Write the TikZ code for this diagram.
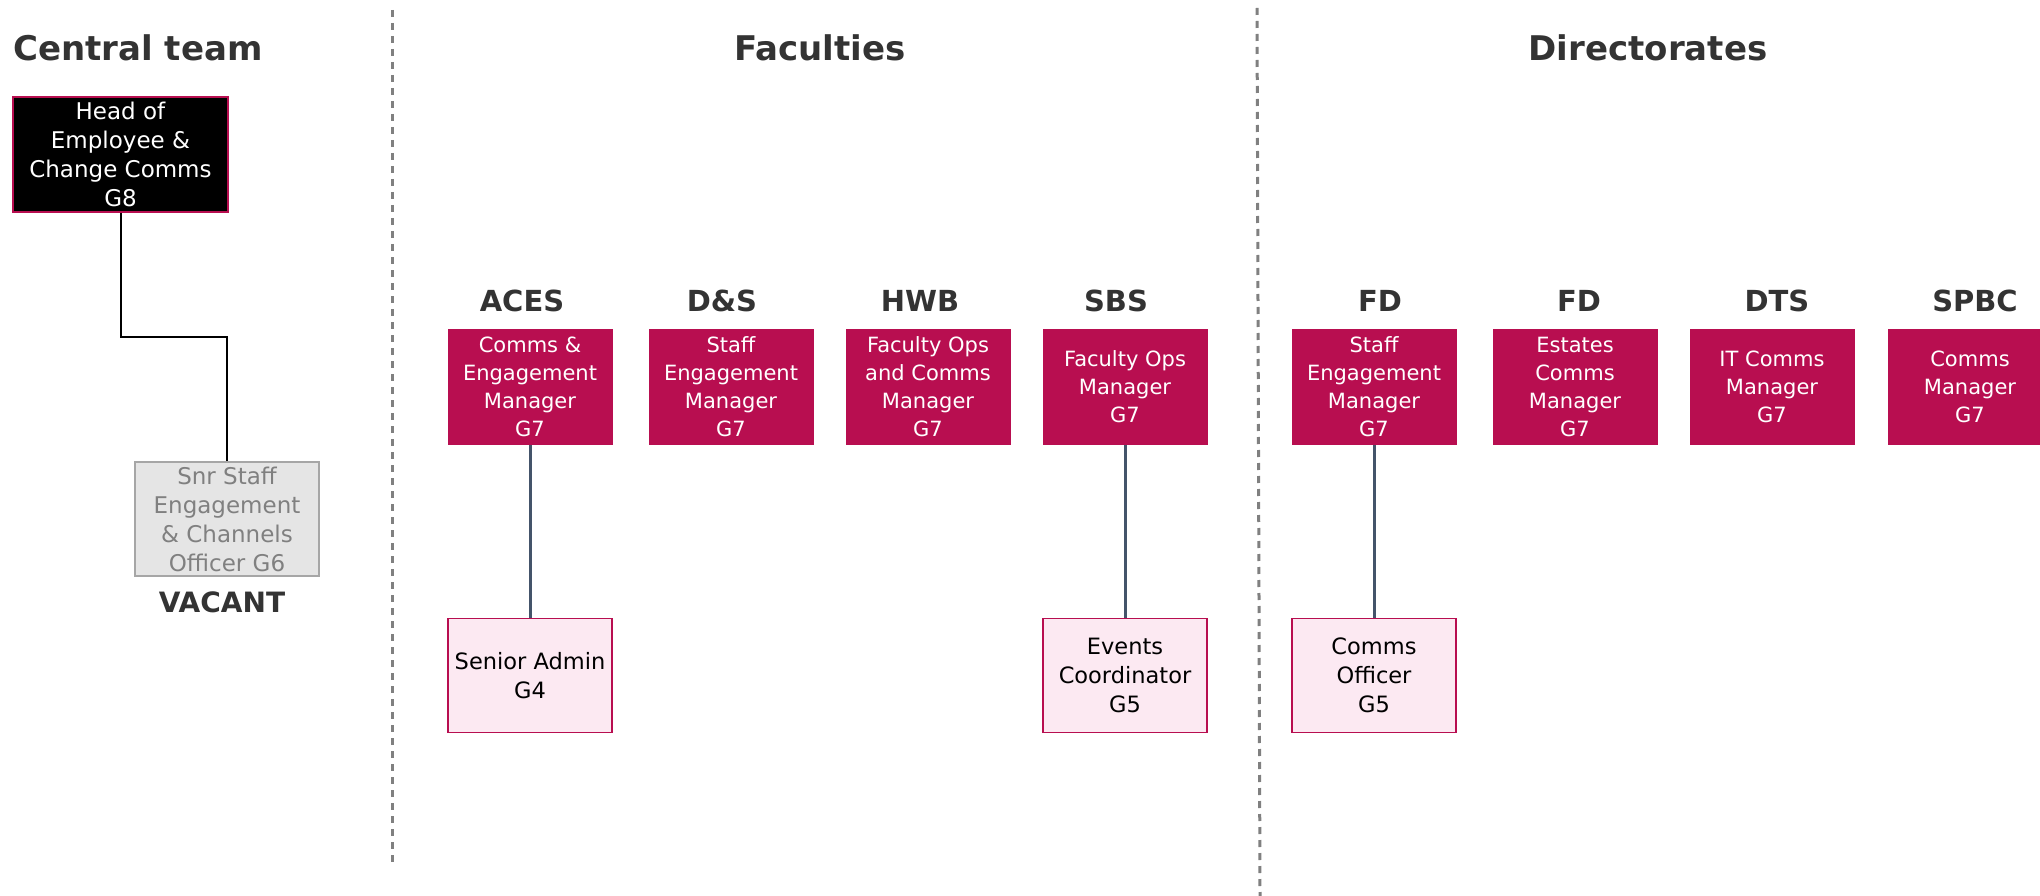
\documentclass[tikz,border=0pt]{standalone}
\usepackage{fontspec}
\setmainfont{DejaVu Sans}
\usetikzlibrary{positioning}
\definecolor{crimson}{RGB}{184,14,80}
\definecolor{pinkfill}{RGB}{252,233,242}
\definecolor{slate}{RGB}{68,84,106}
\definecolor{headgray}{RGB}{51,51,51}
\definecolor{divgray}{RGB}{128,128,128}

\begin{document}
\begin{tikzpicture}[x=1pt,y=-1pt,
  every node/.style={align=center,inner sep=0pt},
  title/.style={font=\fontsize{34}{40}\selectfont\bfseries,text=headgray},
  unit/.style={font=\fontsize{29}{32}\selectfont\bfseries,text=headgray},
  mgr/.style={fill=crimson,text=white,minimum width=165pt,minimum height=116pt,font=\fontsize{21}{28}\selectfont},
  staff/.style={draw=crimson,fill=pinkfill,line width=1.3pt,minimum width=164pt,minimum height=114pt,font=\fontsize{22.5}{29}\selectfont},
  link/.style={draw=slate,line width=3pt}]
  \useasboundingbox (0,0) rectangle (2040,896);
  % section dividers
  \draw[divgray,line width=3pt,dash pattern=on 7pt off 6pt] (392,10) -- (392,868);
  \draw[divgray,line width=3pt,dash pattern=on 7pt off 6pt] (1257,8) -- (1260,896);
  \node[title,anchor=west] (central) at (13,48) {Central team};
  \node[title] (faculties) at (820,48) {Faculties};
  \node[title] (directorates) at (1648,48) {Directorates};
  % central team
  \node[draw=crimson,fill=black,text=white,line width=1.3pt,minimum width=215pt,minimum height=115pt,
    font=\fontsize{23}{29}\selectfont] (head) at (120.5,154.5) {Head of\\Employee \&\\Change Comms\\G8};
  \node[draw=black!35,fill=black!10,text=black!50,line width=1.3pt,minimum width=184pt,minimum height=114pt,
    font=\fontsize{23}{29}\selectfont] (snr) at (227,519) {Snr Staff\\Engagement\\\& Channels\\Officer G6};
  \node[unit,font=\fontsize{28}{32}\selectfont\bfseries] (vacant) at (222,602) {VACANT};
  \coordinate (elbow) at (227,337);
  \draw[line width=2pt] (head.south) |- (elbow) -- (snr.north);
  % faculty and directorate managers
  \foreach \nm/\x/\hx/\unitname/\role in {
      aces/530/522/ACES/Comms \&\\Engagement\\Manager\\G7,
      ds/731/722/D\&S/Staff\\Engagement\\Manager\\G7,
      hwb/928/920/HWB/Faculty Ops\\and Comms\\Manager\\G7,
      sbs/1125/1116/SBS/Faculty Ops\\Manager\\G7,
      fd/1374/1380/FD/Staff\\Engagement\\Manager\\G7,
      est/1575/1579/FD/Estates\\Comms\\Manager\\G7,
      dts/1772/1777/DTS/IT Comms\\Manager\\G7,
      spbc/1970/1975/SPBC/Comms\\Manager\\G7} {
    \node[mgr] (\nm) at (\x,387) {\role};
    \node[unit] (\nm-lbl) at (\hx,301) {\unitname};
  }
  \node[staff] (admin) at (530,675.5) {Senior Admin\\G4};
  \node[staff] (events) at (1125,675.5) {Events\\Coordinator\\G5};
  \node[staff] (officer) at (1374,675.5) {Comms\\Officer\\G5};
  \draw[link] (aces) -- (admin);
  \draw[link] (sbs) -- (events);
  \draw[link] (fd) -- (officer);
\end{tikzpicture}
\end{document}
